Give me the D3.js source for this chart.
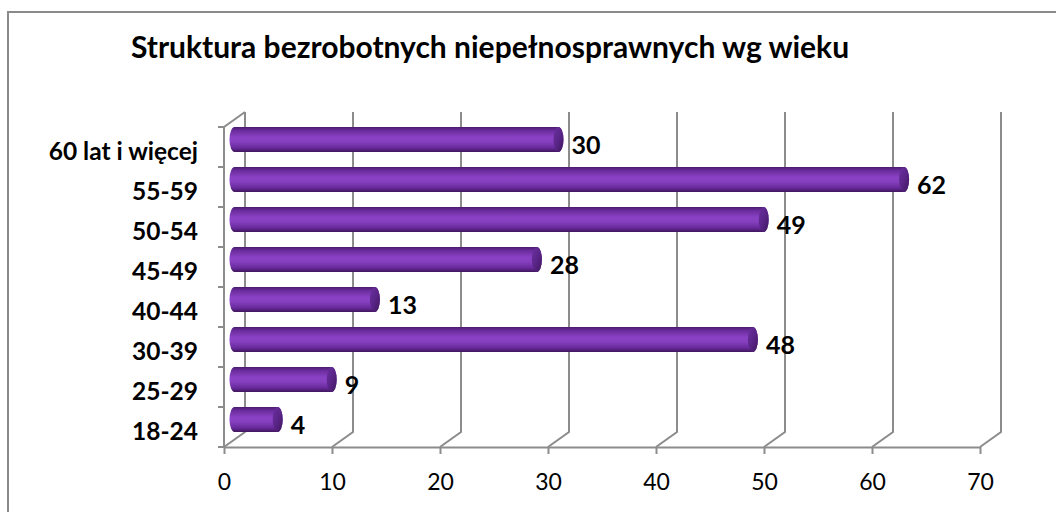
<!DOCTYPE html>
<html>
<head>
<meta charset="utf-8">
<script src="https://cdn.jsdelivr.net/npm/d3@7"></script>
<style>
    html, body { margin: 0; padding: 0; background: #fff; }
    svg { display: block; }
    text { font-family: Lato, "Open Sans", sans-serif; fill: #000; }
</style>
</head>
<body>
<div id="chart"></div>
<script>
const categories = ["18-24", "25-29", "30-39", "40-44", "45-49", "50-54", "55-59", "60 lat i więcej"];
const values = [4, 9, 48, 13, 28, 49, 62, 30];
const tickValues = [0, 10, 20, 30, 40, 50, 60, 70];
const title = "Struktura bezrobotnych niepełnosprawnych wg wieku";

const width = 1056, height = 512;
const depthX = 21, depthY = -15;   // 3d wall offset
const gridColor = "#8c8c8c";

const svg = d3.select("#chart").append("svg")
    .attr("width", width)
    .attr("height", height);

// chart frame (runs off right/bottom like the original)
svg.append("path")
    .attr("d", "M8,520 L8,12 L1060,12")
    .attr("fill", "none")
    .attr("stroke", "#8a8a8a")
    .attr("stroke-width", 2);

svg.append("text")
    .attr("x", 490)
    .attr("y", 58)
    .attr("text-anchor", "middle")
    .attr("font-size", "30px")
    .attr("font-weight", "bold")
    .text(title);

const x = d3.scaleLinear().domain([0, 70]).range([224, 980]);
const y = d3.scaleBand()
    .domain(categories.slice().reverse())
    .range([127, 447]);

const floorY = y.range()[1];
const topY = y.range()[0];

// gradients for the cylinders
const defs = svg.append("defs");
const bodyGrad = defs.append("linearGradient")
    .attr("id", "bodyGrad")
    .attr("x1", 0).attr("y1", 0).attr("x2", 0).attr("y2", 1);
[[0, "#4a1c6c"], [0.14, "#6a2c9c"], [0.42, "#8a42c5"], [0.6, "#853fbe"], [0.84, "#66299a"], [1, "#40165d"]]
    .forEach(s => bodyGrad.append("stop").attr("offset", s[0]).attr("stop-color", s[1]));
const capGrad = defs.append("linearGradient")
    .attr("id", "capGrad")
    .attr("x1", 0).attr("y1", 0).attr("x2", 1).attr("y2", 1);
[[0, "#6a2f9e"], [0.5, "#5a2588"], [1, "#3f175c"]]
    .forEach(s => capGrad.append("stop").attr("offset", s[0]).attr("stop-color", s[1]));

// back wall gridlines + floor diagonals
const grid = svg.append("g")
    .attr("fill", "none")
    .attr("stroke", gridColor)
    .attr("stroke-width", 2);

grid.selectAll("path.grid")
    .data(tickValues)
    .enter().append("path")
    .attr("class", "grid")
    .attr("d", d => `M${x(d)},${floorY} L${x(d) + depthX},${floorY + depthY} L${x(d) + depthX},${topY + depthY}`);

// left wall front edge with top diagonal
grid.append("path")
    .attr("d", `M${x(0)},${floorY} L${x(0)},${topY} L${x(0) + depthX},${topY + depthY}`);

// left wall ticks at band edges
const edges = categories.map((c, i) => topY + i * y.bandwidth()).concat([floorY]);
grid.selectAll("line.ytick")
    .data(edges)
    .enter().append("line")
    .attr("class", "ytick")
    .attr("x1", x(0) - 6).attr("x2", x(0))
    .attr("y1", d => d).attr("y2", d => d);

// bottom axis
const xAxis = svg.append("g")
    .attr("transform", `translate(0,${floorY})`)
    .call(d3.axisBottom(x).tickValues(tickValues).tickSize(7).tickPadding(20).tickSizeOuter(0));
xAxis.select(".domain").attr("stroke", gridColor).attr("stroke-width", 2);
xAxis.selectAll(".tick line").attr("stroke", gridColor).attr("stroke-width", 2);
xAxis.selectAll(".tick text")
    .attr("font-family", "Lato, sans-serif")
    .attr("font-size", "23px")
    .attr("fill", "#000");

// category labels
svg.append("g").selectAll("text")
    .data(categories)
    .enter().append("text")
    .attr("x", 198)
    .attr("y", d => y(d) + y.bandwidth() / 2 + 4)
    .attr("dy", "0.35em")
    .attr("text-anchor", "end")
    .attr("font-size", "24.5px")
    .attr("font-weight", "bold")
    .text(d => d);

// cylinders
const barH = y.bandwidth() * 0.625;
const rx = 5;
const bars = svg.append("g").selectAll("g.bar")
    .data(categories.map((c, i) => ({ cat: c, value: values[i] })))
    .enter().append("g")
    .attr("class", "bar");

const cy = d => y(d.cat) + y.bandwidth() / 2 + depthY / 2;
const x0 = () => x(0) + depthX / 2;
const x1 = d => x(d.value) + depthX / 2;

bars.append("path")
    .attr("fill", "url(#bodyGrad)")
    .attr("d", d => {
        const t = cy(d) - barH / 2, b = cy(d) + barH / 2;
        return `M${x0()},${t} L${x1(d)},${t} A${rx},${barH / 2} 0 0 1 ${x1(d)},${b}` +
            ` L${x0()},${b} A${rx},${barH / 2} 0 0 1 ${x0()},${t} Z`;
    });

bars.append("ellipse")
    .attr("cx", x1)
    .attr("cy", cy)
    .attr("rx", rx)
    .attr("ry", barH / 2)
    .attr("fill", "url(#capGrad)");

bars.append("text")
    .attr("x", d => x1(d) + rx + 8)
    .attr("y", d => cy(d) + 6)
    .attr("dy", "0.35em")
    .attr("font-size", "25px")
    .attr("font-weight", "bold")
    .text(d => d.value);
</script>
</body>
</html>
